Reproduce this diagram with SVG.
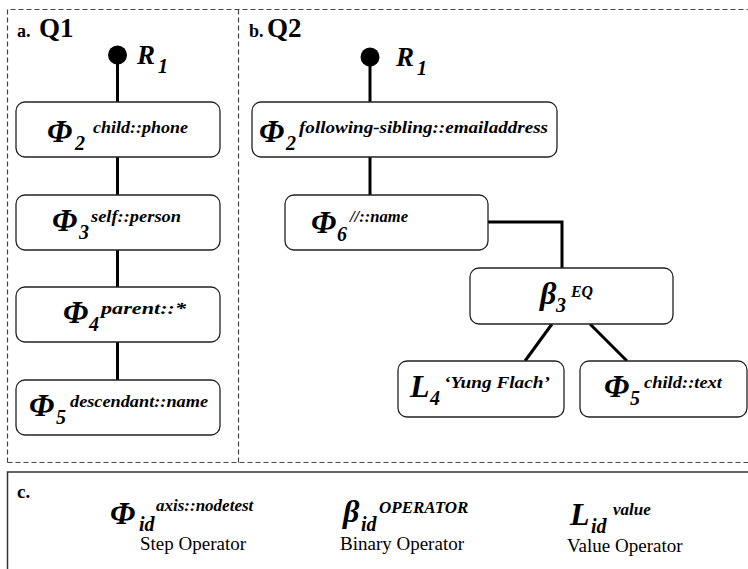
<svg xmlns="http://www.w3.org/2000/svg" width="748" height="569" viewBox="0 0 748 569">
<style>
text{font-family:"Liberation Serif","Times New Roman",Times,serif;fill:#000}
.bi{font-weight:bold;font-style:italic}
.b{font-weight:bold}
.sym{font-size:32px;font-weight:bold;font-style:italic}
.sub{font-size:20px;font-weight:bold;font-style:italic}
.sup{font-size:17px;font-weight:bold;font-style:italic}
.box{fill:#fff;stroke:#222;stroke-width:1.3}
.conn{stroke:#000;stroke-width:3;fill:none}
.dash{stroke:#444;stroke-width:1.2;stroke-dasharray:5 3;fill:none}
.reg{font-size:19px}
</style>
<rect width="748" height="569" fill="#fff"/>
<g id="frames">
<path class="dash" d="M7.5 462.5 V9.5 H748"/>
<path class="dash" d="M238.5 9.5 V462.5"/>
<path class="dash" d="M7.5 462.5 H748"/>
<path d="M7.5 575 V472 H750" fill="none" stroke="#333" stroke-width="1.5"/>
</g>
<g id="titles">
<text class="b" x="17" y="37" font-size="18">a.</text>
<text class="b" x="39" y="37" font-size="27">Q1</text>
<text class="b" x="249" y="37" font-size="18">b.</text>
<text class="b" x="267" y="37" font-size="27">Q2</text>
</g>
<g id="connectors">
<line class="conn" x1="117.5" y1="55" x2="117.5" y2="102"/>
<line class="conn" x1="117.5" y1="157" x2="117.5" y2="195"/>
<line class="conn" x1="117.5" y1="250" x2="117.5" y2="287"/>
<line class="conn" x1="117.5" y1="342" x2="117.5" y2="380"/>
<line class="conn" x1="370" y1="57" x2="370" y2="102"/>
<line class="conn" x1="370" y1="157" x2="370" y2="195"/>
<path class="conn" d="M488 222 H562 V268"/>
<line class="conn" x1="552" y1="324" x2="525" y2="361"/>
<line class="conn" x1="590" y1="324" x2="627" y2="361"/>
</g>
<g id="a_R1">
<circle cx="117.5" cy="55" r="9.5" fill="#000"/>
<text class="bi" x="137" y="64" font-size="27">R</text>
<text class="sub" x="158" y="73">1</text>
</g>
<g id="a_phi2">
<rect class="box" x="16" y="102" width="204" height="55" rx="9"/>
<text class="sym" x="47" y="142">Φ</text>
<text class="sub" x="75" y="150">2</text>
<text class="sup" x="93" y="133" textLength="95" lengthAdjust="spacingAndGlyphs">child::phone</text>
</g>
<g id="a_phi3">
<rect class="box" x="16" y="195" width="204" height="55" rx="9"/>
<text class="sym" x="52" y="231">Φ</text>
<text class="sub" x="79" y="239">3</text>
<text class="sup" x="91" y="222" textLength="90" lengthAdjust="spacingAndGlyphs">self::person</text>
</g>
<g id="a_phi4">
<rect class="box" x="16" y="287" width="204" height="55" rx="9"/>
<text class="sym" x="63" y="323">Φ</text>
<text class="sub" x="89" y="331">4</text>
<text class="sup" x="101" y="314" textLength="85" lengthAdjust="spacingAndGlyphs">parent::*</text>
</g>
<g id="a_phi5">
<rect class="box" x="16" y="380" width="204" height="55" rx="9"/>
<text class="sym" x="29" y="416">Φ</text>
<text class="sub" x="56" y="424">5</text>
<text class="sup" x="70" y="407" textLength="138" lengthAdjust="spacingAndGlyphs">descendant::name</text>
</g>
<g id="b_R1">
<circle cx="370" cy="57" r="9.5" fill="#000"/>
<text class="bi" x="396" y="66" font-size="27">R</text>
<text class="sub" x="417" y="75">1</text>
</g>
<g id="b_phi2">
<rect class="box" x="252" y="102" width="305" height="55" rx="9"/>
<text class="sym" x="259" y="142">Φ</text>
<text class="sub" x="286" y="150">2</text>
<text class="sup" x="299" y="133" textLength="249" lengthAdjust="spacingAndGlyphs">following-sibling::emailaddress</text>
</g>
<g id="b_phi6">
<rect class="box" x="285" y="195" width="203" height="55" rx="9"/>
<text class="sym" x="311" y="233">Φ</text>
<text class="sub" x="337" y="241">6</text>
<text class="sup" x="350" y="222" textLength="58" lengthAdjust="spacingAndGlyphs">//::name</text>
</g>
<g id="b_beta3">
<rect class="box" x="470" y="268" width="203" height="56" rx="9"/>
<text class="sym" x="540" y="304">β</text>
<text class="sub" x="556" y="312">3</text>
<text class="sup" x="571" y="297" textLength="22" lengthAdjust="spacingAndGlyphs">EQ</text>
</g>
<g id="b_L4">
<rect class="box" x="398" y="361" width="166" height="56" rx="9"/>
<text class="sym" x="410" y="397">L</text>
<text class="sub" x="430" y="405">4</text>
<text class="sup" x="444" y="388" textLength="106" lengthAdjust="spacingAndGlyphs">‘Yung Flach’</text>
</g>
<g id="b_phi5">
<rect class="box" x="580" y="361" width="167" height="56" rx="9"/>
<text class="sym" x="604" y="397">Φ</text>
<text class="sub" x="630" y="405">5</text>
<text class="sup" x="644" y="388" textLength="78" lengthAdjust="spacingAndGlyphs">child::text</text>
</g>
<g id="legend">
<text class="b" x="17" y="498" font-size="19">c.</text>
<text class="sym" x="110" y="524">Φ</text>
<text class="sub" x="139" y="531">id</text>
<text class="sup" x="156" y="511" font-size="17">axis::nodetest</text>
<text class="reg" x="140" y="550">Step Operator</text>
<text class="sym" x="343" y="522">β</text>
<text class="sub" x="361" y="531">id</text>
<text class="sup" x="379" y="513" font-size="17">OPERATOR</text>
<text class="reg" x="340" y="550">Binary Operator</text>
<text class="sym" x="570" y="525">L</text>
<text class="sub" x="591" y="533">id</text>
<text class="sup" x="613" y="515" font-size="17">value</text>
<text class="reg" x="567" y="552">Value Operator</text>
</g>
</svg>
